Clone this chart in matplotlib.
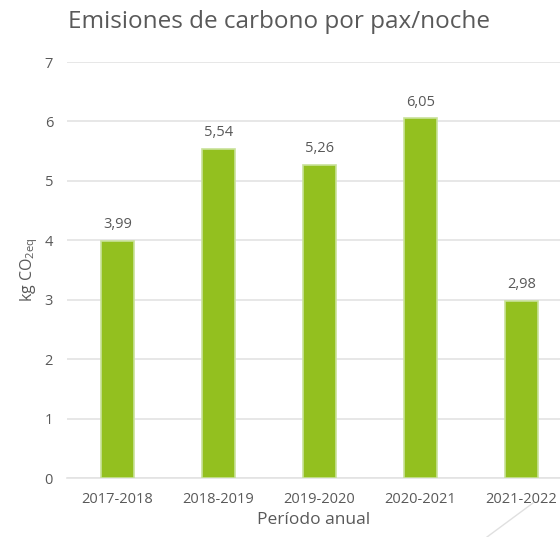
import matplotlib.pyplot as plt
from matplotlib.lines import Line2D

periodos = ["2017-2018", "2018-2019", "2019-2020", "2020-2021", "2021-2022"]
emisiones = [3.99, 5.54, 5.26, 6.05, 2.98]
etiquetas = ["3,99", "5,54", "5,26", "6,05", "2,98"]

plt.rcParams["font.family"] = ["Open Sans", "DejaVu Sans"]
plt.rcParams["mathtext.default"] = "regular"
gris = "#595959"

fig = plt.figure(figsize=(5.6, 5.37), dpi=100)
ax = fig.add_axes([67 / 560, 59 / 537, 493 / 560, 416 / 537])

x = list(range(len(periodos)))
ax.bar(x, emisiones, width=0.32, color="#93C01F", edgecolor="#C9E29A", linewidth=1.2, zorder=3)

for xi, v, t in zip(x, emisiones, etiquetas):
    ax.text(xi, v + 0.15, t, ha="center", va="bottom", fontsize=10.5, color=gris)

ax.set_xlim(-0.5, 4.38)
ax.set_ylim(0, 7)
ax.set_yticks(range(0, 8))
ax.set_xticks(x)
ax.set_xticklabels(periodos)
ax.tick_params(axis="both", length=0, labelsize=10.5, colors=gris)
ax.tick_params(axis="y", pad=10)
ax.tick_params(axis="x", pad=10)

ax.grid(axis="y", color="#E3E3E3", linewidth=1.2, zorder=0)
for s in ["top", "right", "left"]:
    ax.spines[s].set_visible(False)
ax.spines["bottom"].set_color("#E3E3E3")
ax.spines["bottom"].set_linewidth(1.2)

ax.set_ylabel("kg CO$_{2eq}$", fontsize=11.5, color=gris, labelpad=3)
ax.set_xlabel("Período anual", fontsize=12.5, color=gris, labelpad=4)

fig.text(68 / 560, 1 - 22 / 537, "Emisiones de carbono por pax/noche",
         fontsize=17.5, color=gris, ha="left", va="center")

fig.add_artist(Line2D([487 / 560, 533 / 560], [0, 34 / 537], color="#E0E0E0", linewidth=1,
                      transform=fig.transFigure))

fig.savefig("out.png", dpi=100)
